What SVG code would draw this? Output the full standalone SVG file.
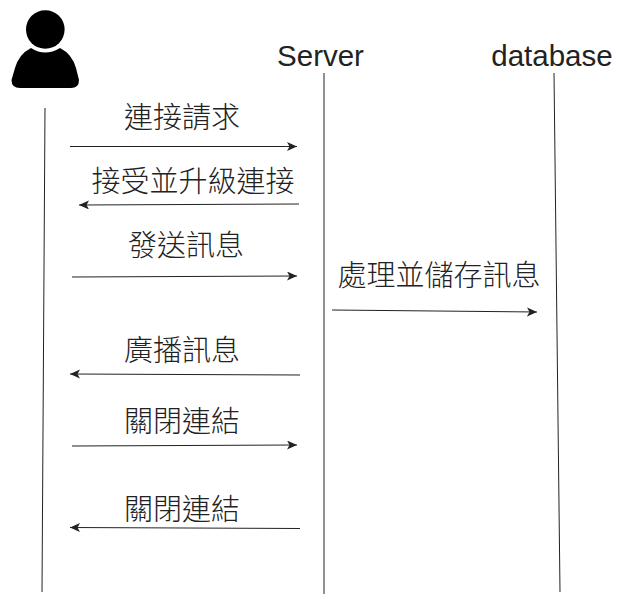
<svg xmlns="http://www.w3.org/2000/svg" width="624" height="605" viewBox="0 0 624 605">
<style>
text{font-family:"Liberation Sans","Noto Sans CJK TC",sans-serif;fill:#222;text-anchor:middle}
.l{font-size:29px;font-weight:300}
.h{font-size:29.5px}
.c{stroke:#222;stroke-width:1;fill:none}
.a{stroke:#222;stroke-width:1;fill:none;marker-end:url(#m)}
</style>
<defs><marker id="m" markerUnits="userSpaceOnUse" markerWidth="11" markerHeight="10" refX="10" refY="4.5" orient="auto"><path d="M0 0L10 4.5L0 9L2.5 4.5Z" fill="#222"/></marker></defs>
<g id="actor"><circle cx="45.3" cy="29.500" r="19.3" fill="#000"/><path d="M31 48Q45 57 60 48Q72 54 76 68L79 80Q79 88 71 88H20Q11.500 88 11.500 80L15 68Q19 54 31 48Z" fill="#000"/></g>
<g id="server"><text class="h" x="320.500" y="66">Server</text></g>
<g id="database"><text class="h" x="552" y="66">database</text></g>
<g id="connectors">
<path class="c" d="M45 108L42 592"/><path class="c" d="M324 73V594"/><path class="c" d="M554 73L560 592"/>
<path class="a" d="M70 146.500H297"/><path class="a" d="M299 204L79 205"/><path class="a" d="M72 277L297 276"/><path class="a" d="M332 310L537 312"/><path class="a" d="M300 375L70 374"/><path class="a" d="M72 446L297 445"/><path class="a" d="M300 528.500L70 527.500"/>
</g>
<g id="labels">
<text class="l" x="182" y="128">連接請求</text><text class="l" x="193" y="192">接受並升級連接</text><text class="l" x="186" y="256">發送訊息</text><text class="l" x="439" y="286">處理並儲存訊息</text><text class="l" x="182" y="361">廣播訊息</text><text class="l" x="182" y="432">關閉連結</text><text class="l" x="182" y="520">關閉連結</text>
</g>
</svg>
